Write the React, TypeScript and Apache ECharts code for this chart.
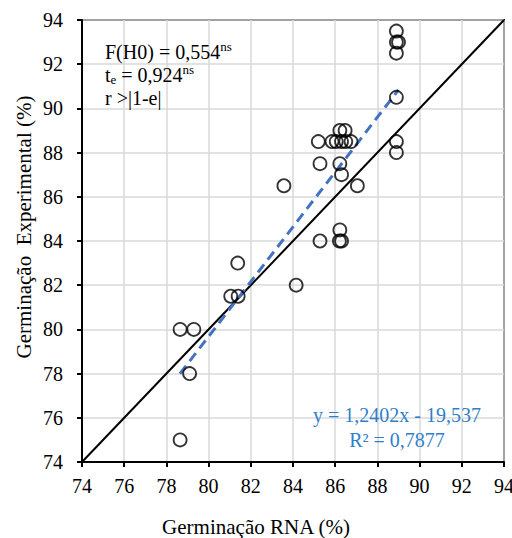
import React, { useEffect, useRef } from "react";
import * as echarts from "echarts";

// Germinação RNA (%) — x values of observed points
const rnaX = [
  78.65, 78.65, 79.3, 79.1, 81.05, 81.4, 81.38, 83.57, 84.15,
  85.2, 85.28, 85.85, 86.05, 86.3, 86.5, 86.75, 86.22, 86.47,
  86.22, 86.3, 87.05, 88.9, 88.9, 88.9, 88.9, 88.9, 89.0, 88.9,
  85.28, 86.2, 86.3, 86.22,
];
// Germinação Experimental (%) — y values of observed points
const expY = [
  75, 80, 80, 78, 81.5, 81.5, 83, 86.5, 82,
  88.5, 87.5, 88.5, 88.5, 88.5, 88.5, 88.5, 89, 89,
  87.5, 87, 86.5, 90.5, 88.5, 88, 93.5, 93, 93, 92.5,
  84, 84, 84, 84.5,
];
const axisMin = 74;
const axisMax = 94;
const axisStep = 2;
const identityRange = [74, 94];
const trendSlope = 1.2402;
const trendIntercept = -19.537;
const trendRange = [78.64, 89.0];
const annotationLines = ["F(H0) = 0,554{s|ns}", "t{b|e} = 0,924{s|ns}", "r >|1-e|"];
const equationLines = ["y = 1,2402x - 19,537", "R² = 0,7877"];
const xName = "Germinação RNA (%)";
const yName = "Germinação  Experimental (%)";

export default function App() {
  const ref = useRef<HTMLDivElement>(null);
  useEffect(() => {
    document.body.style.margin = "0";
    const chart = echarts.init(ref.current!, null, { renderer: "svg" });
    const font = "Liberation Serif";
    const axisCommon = {
      type: "value",
      min: axisMin,
      max: axisMax,
      interval: axisStep,
      axisLine: { show: true, onZero: false, lineStyle: { color: "#000", width: 2 } },
      axisTick: { show: true, inside: false, length: 5, lineStyle: { color: "#000", width: 2 } },
      splitLine: { show: true, lineStyle: { color: "#d9d9d9", width: 1.5 } },
    };
    const option = {
      animation: false,
      textStyle: { fontFamily: font },
      grid: {
        left: 82,
        top: 20,
        width: 422,
        height: 442,
        containLabel: false,
        outerBoundsMode: "none",
        show: true,
        borderColor: "#000",
        borderWidth: 2,
        backgroundColor: "transparent",
      },
      xAxis: {
        ...axisCommon,
        axisLabel: { fontFamily: font, fontSize: 20, color: "#000", margin: 14 },
      },
      yAxis: {
        ...axisCommon,
        axisLabel: { fontFamily: font, fontSize: 20, color: "#000", margin: 19 },
      },
      series: [
        {
          type: "line",
          data: identityRange.map((v) => [v, v]),
          symbol: "none",
          lineStyle: { color: "#000", width: 2 },
          z: 2,
        },
        {
          type: "line",
          data: trendRange.map((x) => [x, trendSlope * x + trendIntercept]),
          symbol: "none",
          lineStyle: { color: "#4472C4", width: 3, type: [10, 6] },
          z: 3,
        },
        {
          type: "scatter",
          data: rnaX.map((x, i) => [x, expY[i]]),
          symbol: "circle",
          symbolSize: 13,
          itemStyle: { color: "rgba(0,0,0,0)", borderColor: "#000", borderWidth: 1.8 },
          z: 4,
        },
      ],
      graphic: [
        {
          type: "text",
          x: 105,
          y: 40,
          z: 10,
          style: {
            text: annotationLines.join("\n"),
            fontFamily: font,
            fontSize: 20,
            lineHeight: 23,
            fill: "#000",
            align: "left",
            verticalAlign: "top",
            rich: {
              s: { fontFamily: font, fontSize: 13, lineHeight: 13, verticalAlign: "top", fill: "#000" },
              b: { fontFamily: font, fontSize: 13, lineHeight: 13, verticalAlign: "bottom", fill: "#000" },
            },
          },
        },
        {
          type: "text",
          x: 397,
          y: 402.5,
          z: 10,
          style: {
            text: equationLines.join("\n"),
            fontFamily: font,
            fontSize: 20,
            lineHeight: 25,
            fill: "#2F80C8",
            align: "center",
            verticalAlign: "top",
          },
        },
        {
          type: "text",
          x: 256,
          y: 527,
          style: {
            text: xName,
            fontFamily: font,
            fontSize: 21,
            fill: "#000",
            align: "center",
            verticalAlign: "middle",
          },
        },
        {
          type: "text",
          x: 24,
          y: 227,
          rotation: Math.PI / 2,
          style: {
            text: yName,
            fontFamily: font,
            fontSize: 21,
            fill: "#000",
            align: "center",
            verticalAlign: "middle",
          },
        },
      ],
    };
    chart.setOption(option as any);
    return () => chart.dispose();
  }, []);
  return <div ref={ref} style={{ width: 512, height: 538 }} />;
}
